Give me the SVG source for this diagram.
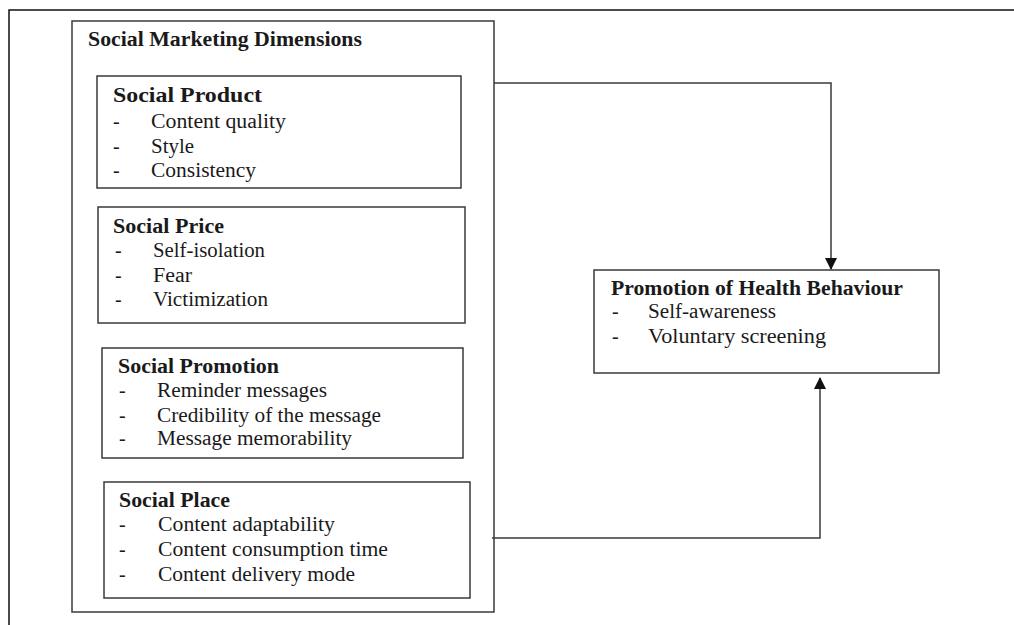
<svg xmlns="http://www.w3.org/2000/svg" width="1014" height="625" viewBox="0 0 1014 625">
<defs>
<style>
.box{fill:#fff;stroke:#3a3a3a;stroke-width:1.5}
.frame{fill:none;stroke:#111;stroke-width:1.5}
.conn{fill:none;stroke:#3a3a3a;stroke-width:1.5}
text{font-family:"Liberation Serif","Times New Roman",serif;fill:#1a1a1a}
.t{font-weight:bold;font-size:20px}
.tl{font-weight:bold;font-size:22px}
.i{font-size:20px}
</style>
<marker id="arr" viewBox="0 0 12 12" refX="11" refY="6" markerWidth="12" markerHeight="12" markerUnits="userSpaceOnUse" orient="auto">
<path d="M0,0 L12,6 L0,12 Z" fill="#111"/>
</marker>
</defs>
<rect width="1014" height="625" fill="#fff"/>
<path class="frame" d="M9,625 V10 H1014"/>

<g id="dimensions">
<rect class="box" x="72" y="21" width="422" height="591"/>
<text class="t" x="88" y="45.5" textLength="274" lengthAdjust="spacingAndGlyphs">Social Marketing Dimensions</text>
</g>

<g id="product">
<rect class="box" x="97" y="76" width="364" height="112"/>
<text class="tl" x="113" y="102" textLength="149" lengthAdjust="spacingAndGlyphs">Social Product</text>
<text class="i" x="113" y="128">-</text><text class="i" x="151" y="128" textLength="135" lengthAdjust="spacingAndGlyphs">Content quality</text>
<text class="i" x="113" y="153">-</text><text class="i" x="151" y="153" textLength="43" lengthAdjust="spacingAndGlyphs">Style</text>
<text class="i" x="113" y="177">-</text><text class="i" x="151" y="177" textLength="105" lengthAdjust="spacingAndGlyphs">Consistency</text>
</g>

<g id="price">
<rect class="box" x="98" y="207" width="367" height="116"/>
<text class="t" x="113" y="233" textLength="111" lengthAdjust="spacingAndGlyphs">Social Price</text>
<text class="i" x="115" y="257">-</text><text class="i" x="153" y="257" textLength="112" lengthAdjust="spacingAndGlyphs">Self-isolation</text>
<text class="i" x="115" y="282">-</text><text class="i" x="153" y="282" textLength="39" lengthAdjust="spacingAndGlyphs">Fear</text>
<text class="i" x="115" y="306">-</text><text class="i" x="153" y="306" textLength="115" lengthAdjust="spacingAndGlyphs">Victimization</text>
</g>

<g id="promotion">
<rect class="box" x="102" y="348" width="361" height="110"/>
<text class="t" x="118" y="373" textLength="161" lengthAdjust="spacingAndGlyphs">Social Promotion</text>
<text class="i" x="119" y="397">-</text><text class="i" x="157" y="397" textLength="170" lengthAdjust="spacingAndGlyphs">Reminder messages</text>
<text class="i" x="119" y="422">-</text><text class="i" x="157" y="422" textLength="224" lengthAdjust="spacingAndGlyphs">Credibility of the message</text>
<text class="i" x="119" y="445">-</text><text class="i" x="157" y="445" textLength="195" lengthAdjust="spacingAndGlyphs">Message memorability</text>
</g>

<g id="place">
<rect class="box" x="104" y="482" width="366" height="116"/>
<text class="t" x="119" y="507" textLength="111" lengthAdjust="spacingAndGlyphs">Social Place</text>
<text class="i" x="119" y="531">-</text><text class="i" x="158" y="531" textLength="177" lengthAdjust="spacingAndGlyphs">Content adaptability</text>
<text class="i" x="119" y="556">-</text><text class="i" x="158" y="556" textLength="230" lengthAdjust="spacingAndGlyphs">Content consumption time</text>
<text class="i" x="119" y="581">-</text><text class="i" x="158" y="581" textLength="197" lengthAdjust="spacingAndGlyphs">Content delivery mode</text>
</g>

<g id="health">
<rect class="box" x="594" y="270" width="345" height="103"/>
<text class="t" x="611" y="295" textLength="292" lengthAdjust="spacingAndGlyphs">Promotion of Health Behaviour</text>
<text class="i" x="612" y="318">-</text><text class="i" x="648" y="318" textLength="128" lengthAdjust="spacingAndGlyphs">Self-awareness</text>
<text class="i" x="612" y="343">-</text><text class="i" x="648" y="343" textLength="178" lengthAdjust="spacingAndGlyphs">Voluntary screening</text>
</g>

<g id="connectors">
<path class="conn" d="M494,83 H831 V269" marker-end="url(#arr)"/>
<path class="conn" d="M492,538 H820 V378" marker-end="url(#arr)"/>
</g>
</svg>
